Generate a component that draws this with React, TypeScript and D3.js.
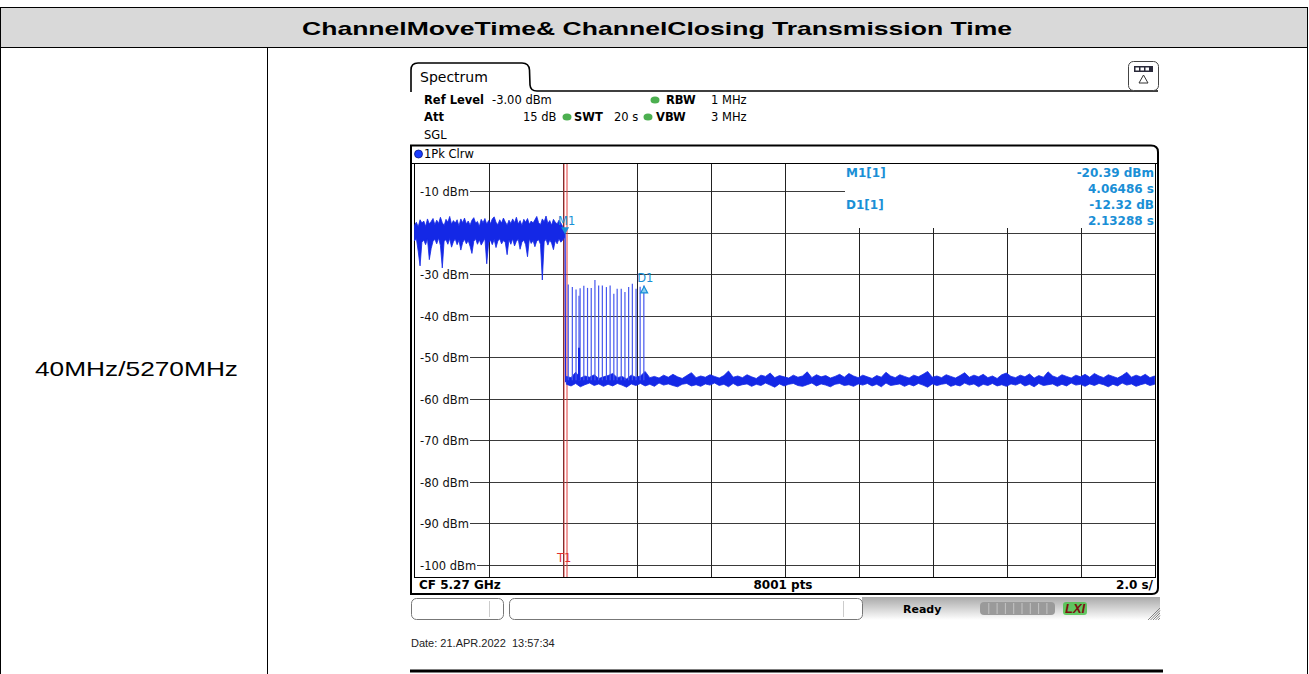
import React from "react";
import * as d3 from "d3";

const W = 1309;
const H = 674;

// y axis tick labels (dBm)
const yTicks = [-10, -20, -30, -40, -50, -60, -70, -80, -90, -100];

// trace before the channel move: upper / lower envelope, one value every 0.05 s from 0 s
const preTop = [
  -18.2, -17.5, -18.6, -16.9, -17.7, -17.2, -18.5, -16.7, -17.9, -17.3,
  -16.6, -18.1, -17.0, -17.8, -16.3, -17.6, -18.3, -16.8, -17.5, -16.1,
  -18.0, -17.1, -17.7, -16.9, -18.4, -16.7, -17.6, -16.5, -17.9, -17.2,
  -18.2, -17.0, -16.4, -17.7, -17.3, -18.5, -16.8, -17.6, -16.6, -18.0,
  -17.1, -17.8, -16.7, -16.2, -17.5, -18.1, -16.9, -17.7, -16.5, -17.4,
  -18.2, -17.0, -17.8, -16.7, -17.6, -16.3, -17.9, -17.1, -18.3, -16.8,
  -17.5, -16.6, -18.0, -17.2, -17.7, -16.9, -16.1, -17.6, -18.1, -16.7,
  -17.4, -16.0, -17.8, -17.1, -18.2, -16.8, -17.5, -17.9, -17.0, -17.7,
  -18.5, -19.2,
];
const preBot = [
  -22.0, -21.4, -24.5, -28.0, -22.3, -21.8, -22.9, -21.5, -26.5, -23.8,
  -22.1, -21.6, -22.7, -21.3, -23.1, -28.5, -22.0, -21.7, -22.8, -21.4,
  -23.5, -22.2, -21.5, -22.9, -21.8, -24.2, -22.4, -21.6, -22.7, -21.9,
  -23.3, -25.0, -22.1, -21.5, -22.8, -21.7, -23.0, -22.2, -21.4, -27.5,
  -22.5, -21.8, -22.9, -21.6, -23.6, -22.0, -21.5, -22.7, -21.9, -22.4,
  -25.3, -21.7, -22.8, -21.5, -23.2, -22.1, -21.6, -24.0, -22.3, -21.8,
  -22.9, -25.8, -21.5, -22.6, -21.9, -23.4, -22.0, -21.7, -22.8, -31.4,
  -22.2, -21.6, -23.0, -21.8, -22.5, -24.1, -21.9, -22.7, -21.5, -22.3,
  -21.8, -21.2,
];

// noise floor after the move: upper / lower envelope, one value every 0.125 s from 4.1 s
const floorTop = [
  -54.6, -54.9, -53.6, -55.0, -54.5, -54.8, -54.2, -55.1, -54.7, -54.4, -53.9, -54.9, -54.6, -55.2, -54.3, -54.8,
  -54.5, -53.4, -54.9, -54.6, -55.0, -54.3, -54.8, -54.1, -54.7, -55.1, -54.4, -53.7, -54.9, -54.5, -54.8, -54.2,
  -54.6, -55.0, -54.4, -53.3, -54.8, -54.5, -54.9, -54.2, -54.7, -55.1, -54.3, -54.6, -53.8, -54.9, -54.4, -54.7,
  -55.0, -54.3, -54.8, -54.5, -53.5, -54.9, -54.2, -54.7, -54.4, -55.0, -54.6, -54.1, -54.8, -53.9, -54.5, -54.9,
  -54.3, -54.7, -55.1, -54.4, -54.8, -53.6, -54.5, -54.9, -54.2, -54.6, -55.0, -54.3, -54.7, -54.1, -53.4, -54.8,
  -54.5, -54.9, -54.2, -54.6, -55.0, -54.4, -53.7, -54.8, -54.3, -54.7, -54.1, -54.9, -54.5, -55.1, -54.2, -53.8,
  -54.6, -54.9, -54.3, -54.7, -54.0, -55.0, -54.4, -54.8, -53.5, -54.5, -54.9, -54.2, -54.6, -55.0, -54.3, -54.7,
  -54.1, -54.8, -53.9, -54.5, -54.9, -54.2, -54.6, -55.0, -54.4, -53.6, -54.8, -54.3, -54.7, -54.1, -54.9, -54.5,
];
const floorBot = [
  -56.5, -56.9, -56.3, -57.1, -56.6, -56.2, -56.8, -56.4, -57.0, -56.5, -56.9, -56.3, -56.7, -57.2, -56.4, -56.8,
  -56.3, -56.9, -56.5, -57.0, -56.2, -56.7, -56.4, -56.8, -57.1, -56.5, -56.3, -56.9, -56.6, -57.0, -56.4, -56.7,
  -56.2, -56.8, -56.5, -57.1, -56.3, -56.9, -56.6, -56.4, -57.0, -56.5, -56.8, -56.2, -56.7, -57.2, -56.4, -56.9,
  -56.5, -56.3, -56.8, -57.0, -56.6, -56.2, -56.9, -56.4, -56.7, -57.1, -56.5, -56.3, -56.8, -56.6, -57.0, -56.4,
  -56.7, -56.3, -56.9, -56.5, -57.1, -56.2, -56.8, -56.6, -56.4, -57.0, -56.5, -56.9, -56.3, -56.7, -57.2, -56.4,
  -56.8, -56.5, -56.3, -57.0, -56.6, -56.9, -56.2, -56.7, -56.4, -57.1, -56.5, -56.8, -56.3, -56.9, -56.6, -57.0,
  -56.4, -56.7, -56.2, -56.9, -56.5, -57.1, -56.3, -56.8, -56.6, -56.4, -57.0, -56.5, -56.9, -56.2, -56.7, -56.5,
  -57.0, -56.4, -56.8, -56.3, -56.6, -57.1, -56.5, -56.9, -56.2, -56.7, -56.4, -57.0, -56.6, -56.3, -56.8, -56.5,
];

// closing transmission bursts: time (s) and peak (dBm)
const burstTimes = [
  4.15, 4.26, 4.36, 4.44, 4.47, 4.57, 4.67, 4.77, 4.87, 4.97, 5.07,
  5.18, 5.28, 5.38, 5.47, 5.58, 5.68, 5.78, 5.88, 5.98, 6.09, 6.19,
];
const burstPeaks = [
  -32.5, -33.1, -33.7, -35.2, -33.4, -32.8, -33.3, -33.3, -31.4, -32.7, -32.7,
  -33.1, -32.7, -34.7, -33.5, -33.5, -34.3, -33.1, -32.3, -33.5, -33.0, -32.7,
];
const bumpTimes = [4.44];
const bumpLevels = [-47.7];

const m1Time = 4.06486;
const m1Level = -20.39;
const d1Time = m1Time + 2.13288;
const d1Level = m1Level - 12.32;

const markerNames = ["M1[1]", "", "D1[1]", ""];
const markerValues = ["-20.39 dBm", "4.06486 s", "-12.32 dB", "2.13288 s"];

const FS = "'DejaVu Sans', Verdana, sans-serif";
const AR = "'Liberation Sans', Arial, sans-serif";
const TRACE = "#1428e6";
const MK = "#1a8fd6";

export default function App() {
  const x = d3.scaleLinear().domain([0, 20]).range([414.5, 1155.5]);
  const y = d3.scaleLinear().domain([-103, -3]).range([577.5, 162]);

  const preArea = d3
    .area<number>()
    .x((_, i) => x(i * 0.05))
    .y0((_, i) => y(preBot[i]))
    .y1((d) => y(d))(preTop);

  const floorArea = d3
    .area<number>()
    .x((_, i) => x(4.1 + i * 0.125))
    .y0((_, i) => y(floorBot[i]))
    .y1((d) => y(d))(floorTop);

  const drop = d3.line()([
    [x(4.05), y(-20.2)],
    [x(m1Time), y(m1Level)],
    [x(4.075), y(-55.8)],
    [x(4.1), y(-55.6)],
  ]);

  const vGrid = d3.range(1, 10).map((k) => Math.round(x(k * 2)) + 0.5);

  const mx = x(m1Time);
  const my = y(m1Level);
  const dx = x(d1Time);
  const dy = y(d1Level);

  return (
    <svg
      width={W}
      height={H}
      style={{ position: "absolute", left: 0, top: 0, background: "#fff" }}
    >
      {/* report table */}
      <rect x={1} y={8} width={1306} height={39} fill="#d9d9d9" />
      <rect x={0.5} y={7.5} width={1307} height={700} fill="none" stroke="#000" />
      <line x1={0} x2={1308} y1={47.5} y2={47.5} stroke="#000" />
      <line x1={267.5} x2={267.5} y1={47.5} y2={H} stroke="#000" />
      <text
        x={302}
        y={35}
        fontFamily={AR}
        fontWeight="bold"
        fontSize={19}
        textLength={710}
        lengthAdjust="spacingAndGlyphs"
      >
        ChannelMoveTime&amp; ChannelClosing Transmission Time
      </text>
      <text
        x={35}
        y={376}
        fontFamily={AR}
        fontSize={21}
        textLength={203}
        lengthAdjust="spacingAndGlyphs"
      >
        40MHz/5270MHz
      </text>

      {/* spectrum tab */}
      <path
        d="M411,92 V70 Q411,63 418,63 H522 Q529,63 529.5,70 L530,85 Q530.5,91 537,91 H1158"
        fill="none"
        stroke="#000"
        strokeWidth={1.6}
      />
      <text x={420} y={82} fontFamily={FS} fontSize={14}>
        Spectrum
      </text>
      <rect x={1128.5} y={61.5} width={30} height={29} rx={5} fill="#fff" stroke="#444" />
      <rect x={1134} y={66} width={19} height={6} fill="#2a2a3a" />
      {[0, 1, 2].map((k) => (
        <rect key={k} x={1135.5 + k * 5} y={67.5} width={3.5} height={3} fill="#fff" />
      ))}
      <path d="M1143.5,75 L1139,83 H1148 Z" fill="none" stroke="#333" />

      <g fontFamily={FS} fontSize={11.5}>
        <text x={424} y={104} fontWeight="bold">Ref Level</text>
        <text x={492} y={104}>-3.00 dBm</text>
        <text x={666} y={104} fontWeight="bold">RBW</text>
        <text x={711} y={104}>1 MHz</text>
        <text x={424} y={121} fontWeight="bold">Att</text>
        <text x={523} y={121}>15 dB</text>
        <text x={574} y={121} fontWeight="bold">SWT</text>
        <text x={614} y={121}>20 s</text>
        <text x={656} y={121} fontWeight="bold">VBW</text>
        <text x={711} y={121}>3 MHz</text>
        <text x={424} y={139}>SGL</text>
      </g>
      {[
        [655, 100],
        [567, 117],
        [648, 117],
      ].map(([cx, cy], i) => (
        <ellipse key={i} cx={cx} cy={cy} rx={4.5} ry={3.5} fill="#4caf50" />
      ))}

      {/* trace window */}
      <path
        d="M411,595 V145.5 H1151 Q1158,145.5 1158,152 V588 Q1158,594 1152,594 H411"
        fill="none"
        stroke="#000"
        strokeWidth={2}
      />
      <line x1={412} x2={1157} y1={163.5} y2={163.5} stroke="#000" />
      <circle cx={418.5} cy={154} r={4} fill="#1a3cff" stroke="#0a1a80" strokeWidth={0.8} />
      <text x={424} y={158} fontFamily={FS} fontSize={11.5}>1Pk Clrw</text>

      {/* grid */}
      {yTicks.map((t) => {
        const gy = Math.round(y(t)) + 0.5;
        return (
          <line key={t} x1={414.5} x2={1155.5} y1={gy} y2={gy} stroke="#3a3a3a" />
        );
      })}
      {vGrid.map((gx) => (
        <line key={gx} x1={gx} x2={gx} y1={163.5} y2={577.5} stroke="#222" />
      ))}
      <rect x={845} y={164} width={311} height={64} fill="#fff" />
      {yTicks.map((t) => {
        const gy = Math.round(y(t)) + 0.5;
        const label = `${t} dBm`;
        return (
          <g key={t}>
            <rect x={415} y={gy - 6} width={label.length * 7 + 6} height={12} fill="#fff" />
            <text x={420} y={gy + 4} fontFamily={FS} fontSize={11.5} fill="#111">
              {label}
            </text>
          </g>
        );
      })}
      <rect x={414.5} y={163.5} width={741} height={414} fill="none" stroke="#000" />

      {/* trigger line */}
      <line x1={564} x2={564} y1={164} y2={577} stroke="#e03c3c" />
      <line x1={567} x2={567} y1={164} y2={577} stroke="#e03c3c" />
      <text x={557} y={562} fontFamily={FS} fontSize={11.5} fill="#e03030">T1</text>

      {/* trace */}
      <path d={preArea ?? ""} fill={TRACE} stroke={TRACE} strokeWidth={0.8} />
      <path d={floorArea ?? ""} fill={TRACE} stroke={TRACE} strokeWidth={0.8} />
      <path d={drop ?? ""} fill="none" stroke={TRACE} strokeWidth={1.2} />
      {burstTimes.map((t, i) => (
        <line
          key={i}
          x1={x(t)}
          x2={x(t)}
          y1={y(-55.5)}
          y2={y(burstPeaks[i])}
          stroke="#4658ee"
          strokeWidth={1.2}
        />
      ))}
      {bumpTimes.map((t, i) => (
        <line
          key={i}
          x1={x(t)}
          x2={x(t)}
          y1={y(-55.5)}
          y2={y(bumpLevels[i])}
          stroke={TRACE}
          strokeWidth={2}
        />
      ))}

      {/* markers */}
      <path d={`M${mx},${my} l-4,-7 h8 Z`} fill={MK} />
      <text x={mx - 7} y={my - 9} fontFamily={FS} fontSize={11.5} fill={MK}>M1</text>
      <path d={`M${dx},${dy + 1} l-3.5,6.5 h7 Z`} fill="#8fd0f0" stroke={MK} strokeWidth={1.2} />
      <text x={dx - 7} y={dy - 3} fontFamily={FS} fontSize={11.5} fill={MK}>D1</text>

      <g fontFamily={FS} fontSize={12} fontWeight="bold" fill={MK}>
        {markerNames.map((n, i) => (
          <text key={"n" + i} x={846} y={177 + i * 16}>{n}</text>
        ))}
        {markerValues.map((v, i) => (
          <text key={"v" + i} x={1154} y={177 + i * 16} textAnchor="end">{v}</text>
        ))}
      </g>

      {/* bottom info row */}
      <g fontFamily={FS} fontSize={12} fontWeight="bold">
        <text x={419} y={589}>CF 5.27 GHz</text>
        <text x={783} y={589} textAnchor="middle">8001 pts</text>
        <text x={1153} y={589} textAnchor="end">2.0 s/</text>
      </g>

      {/* status bar */}
      <defs>
        <linearGradient id="stat" x1="0" x2="0" y1="0" y2="1">
          <stop offset="0" stopColor="#a9a9a9" />
          <stop offset="1" stopColor="#ffffff" />
        </linearGradient>
      </defs>
      <rect x={862} y={597} width={298} height={23} fill="url(#stat)" />
      <rect x={411.5} y={598.5} width={92} height={21} rx={5} fill="#fff" stroke="#777" />
      <line x1={489.5} x2={489.5} y1={601} y2={617} stroke="#ccc" />
      <rect x={509.5} y={598.5} width={353} height={21} rx={5} fill="#fff" stroke="#777" />
      <line x1={843.5} x2={843.5} y1={601} y2={617} stroke="#ccc" />
      <text x={903} y={613} fontFamily={FS} fontSize={11} fontWeight="bold">Ready</text>
      <rect x={980} y={602} width={75} height={13} rx={4} fill="#9a9a9a" />
      {d3.range(1, 9).map((k) => (
        <line key={k} x1={980.5 + k * 8.3} x2={980.5 + k * 8.3} y1={603} y2={614} stroke="#c4c4c4" />
      ))}
      <rect x={1063} y={602} width={24} height={13} rx={3} fill="#4cc24c" opacity={0.85} />
      <text
        x={1065}
        y={613}
        fontFamily={AR}
        fontSize={13}
        fontWeight="bold"
        fontStyle="italic"
        fill="#7a1010"
      >
        LXI
      </text>
      {d3.range(0, 5).map((k) => (
        <line key={k} x1={1148 + k * 2.5} x2={1160} y1={620} y2={608 + k * 2.5} stroke="#666" strokeWidth={0.8} />
      ))}

      <text x={411} y={647} fontFamily={AR} fontSize={11} fill="#222">
        Date: 21.APR.2022{"\u00a0\u00a0"}13:57:34
      </text>
      <line x1={410} x2={1163} y1={671} y2={671} stroke="#000" strokeWidth={3} />
    </svg>
  );
}
